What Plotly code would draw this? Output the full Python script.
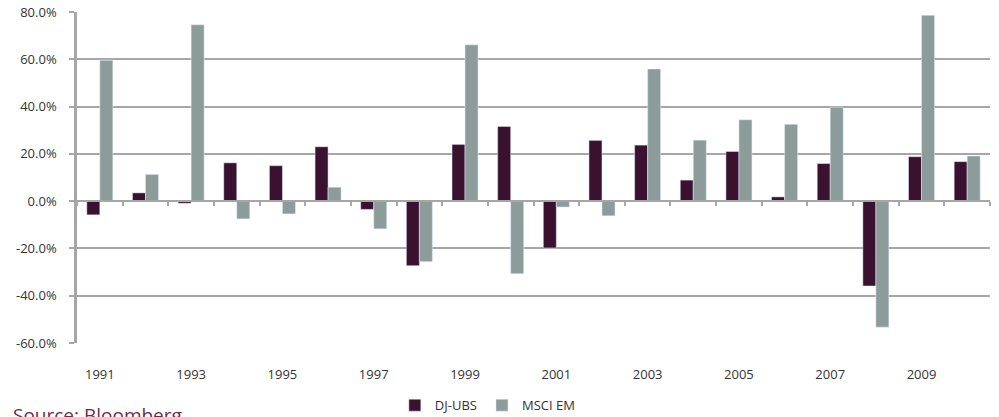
import plotly.graph_objects as go

# Annual returns (%) by year
years = list(range(1991, 2011))
dj_ubs = [-5.8, 3.5, -0.9, 16.2, 15.0, 23.0, -3.5, -27.3, 24.0, 31.6,
          -19.8, 25.7, 23.7, 8.9, 21.0, 1.8, 15.9, -35.9, 18.8, 16.7]
msci_em = [59.6, 11.3, 74.6, -7.5, -5.4, 5.9, -11.7, -25.6, 66.1, -30.7,
           -2.5, -6.2, 55.9, 25.8, 34.4, 32.5, 39.7, -53.3, 78.6, 19.1]
y_ticks = [-60, -40, -20, 0, 20, 40, 60, 80]
x_label_years = years[::2]

DJ_COLOR = "#3a1230"
EM_COLOR = "#8c9c9b"
GRID = "#a6a6a6"
FONT = "Open Sans"

fig = go.Figure()
fig.add_trace(go.Bar(x=years, y=dj_ubs, name="DJ-UBS", marker_color=DJ_COLOR))
fig.add_trace(go.Bar(x=years, y=msci_em, name="MSCI EM", marker_color=EM_COLOR))

y_min, y_max = y_ticks[0], y_ticks[-1]
x_range = [years[0] - 0.5, years[-1] + 0.5]

fig.update_layout(
    width=999, height=417,
    margin=dict(l=77, r=9, t=12, b=74, autoexpand=False),
    paper_bgcolor="white", plot_bgcolor="white",
    barmode="group", bargap=0.43, bargroupgap=0,
    font=dict(family=FONT, size=13, color="#333333"),
    showlegend=True,
    legend=dict(orientation="h", x=0.45, xanchor="center", y=-0.188, yanchor="middle",
                font=dict(size=13, color="#333333"), itemwidth=30,
                bgcolor="rgba(0,0,0,0)"),
    xaxis=dict(
        range=x_range, tickvals=x_label_years, ticktext=[str(y) for y in x_label_years],
        showgrid=False, zeroline=False, showline=False, automargin=False,
        ticks="outside", ticklen=19, tickcolor="rgba(0,0,0,0)",
    ),
    # second x axis drawn along the zero line carrying the category boundary ticks
    xaxis2=dict(
        overlaying="x", anchor="free", position=(0 - y_min) / (y_max - y_min),
        range=x_range, tickvals=[y + 0.5 for y in [years[0] - 1] + years],
        showticklabels=False, showgrid=False, zeroline=False, automargin=False,
        showline=True, linecolor=GRID, linewidth=2,
        ticks="outside", ticklen=4, tickcolor=GRID, tickwidth=1.5,
    ),
    yaxis=dict(
        range=[y_min, y_max], tickvals=y_ticks,
        ticktext=[f"{v:.1f}%" for v in y_ticks],
        showgrid=True, gridcolor=GRID, gridwidth=1.5, automargin=False,
        zeroline=False, showline=True, linecolor=GRID, linewidth=2.5,
        ticks="outside", ticklen=5, tickcolor=GRID, tickwidth=1.5,
        ticklabelstandoff=10,
    ),
)

# invisible point so the zero-line axis is rendered
fig.add_trace(go.Scatter(x=[years[0]], y=[0], xaxis="x2", mode="markers",
                         marker=dict(opacity=0), showlegend=False, hoverinfo="skip"))

fig.add_annotation(
    text="Source: Bloomberg", xref="paper", yref="paper",
    x=-77 / 913 + 11 / 913, y=-0.172, xanchor="left", yanchor="top",
    showarrow=False, font=dict(family=FONT, size=19, color="#6e2b4f"),
)

fig.write_html("out.html")
